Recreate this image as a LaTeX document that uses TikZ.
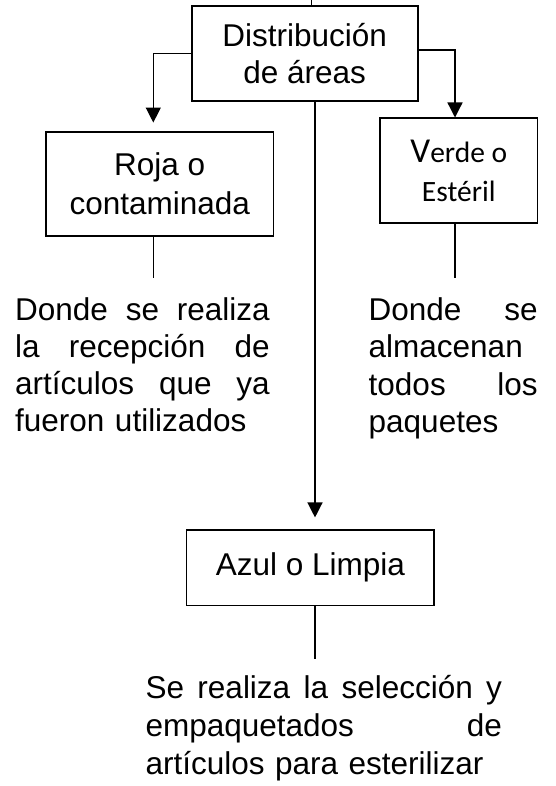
\documentclass[tikz,border=0pt]{standalone}
\usepackage{fontspec}
\setmainfont{Liberation Sans}
\newfontfamily\carl{Carlito}
\usetikzlibrary{arrows.meta}
\newcommand\jline[2]{\leavevmode\hbox to #1{#2}}
\begin{document}
\begin{tikzpicture}[x=1pt,y=-1pt,
  box/.style={draw, line width=1.6pt, inner sep=0pt, align=center,
    font=\fontsize{31.5}{36.7}\selectfont},
  conn/.style={line width=1.3pt},
  arr/.style={conn, -{Triangle[width=15pt,length=15pt]}},
  para/.style={anchor=base west, inner sep=0pt, align=left,
    font=\fontsize{31.5}{37.3}\selectfont}]
\useasboundingbox (0,0) rectangle (556,786);

% boxes
\node[box, minimum width=226pt, minimum height=95pt] (dist) at (304.7,53.5)
  {Distribución\\de áreas};
\node[box, minimum width=227.3pt, minimum height=104.3pt,
  font=\fontsize{31.5}{39.3}\selectfont] (roja) at (159.7,183.9)
  {Roja o\\contaminada};
\node[box, minimum width=157.7pt, minimum height=105pt,
  font=\carl\fontsize{29.5}{38.5}\selectfont] (verde) at (458.8,170.8)
  {{\fontsize{35}{38.5}\selectfont V}erde o\\Estéril};
\node[box, minimum width=247.3pt, minimum height=75.7pt] (azul) at (310.3,567.8)
  {Azul o Limpia};

% connectors
\coordinate (topin) at (311.7,0);
\draw[conn] (topin) -- (topin |- dist.north);
\draw[arr, shorten >=8.4pt] (dist.west) -| ([xshift=-6.4pt]roja.north);
\draw[arr] ([yshift=3.5pt]dist.east) -| ([xshift=-3.8pt]verde.north);
\draw[arr, shorten >=11.7pt] ([xshift=10.3pt]dist.south) -- ([xshift=4.7pt]azul.north);

\coordinate (rl) at (153.3,277.7);
\draw[conn] (rl |- roja.south) -- (rl);
\coordinate (vl) at (455,277.7);
\draw[conn] (vl |- verde.south) -- (vl);
\coordinate (al) at (315,659);
\draw[conn] (al |- azul.south) -- (al);

% descriptions
\node[para, text width=254.5pt] (troja) at (15,320)
  {\jline{254.5pt}{Donde\hfill se\hfill realiza}\\
   \jline{254.5pt}{la\hfill recepción\hfill de}\\
   \jline{254.5pt}{artículos\hfill que\hfill ya}\\
   fueron utilizados};
\node[para, text width=169pt] (tverde) at (368.5,320.5)
  {\jline{169pt}{Donde\hfill se}\\
   almacenan\\
   \jline{169pt}{todos\hfill los}\\
   paquetes};
\node[para, text width=356.4pt, font=\fontsize{31.5}{38}\selectfont] (tazul) at (145.4,698.5)
  {\jline{356.4pt}{Se\hfill realiza\hfill la\hfill selección\hfill y}\\
   \jline{356.4pt}{empaquetados\hfill de}\\
   artículos para esterilizar};
\end{tikzpicture}
\end{document}
